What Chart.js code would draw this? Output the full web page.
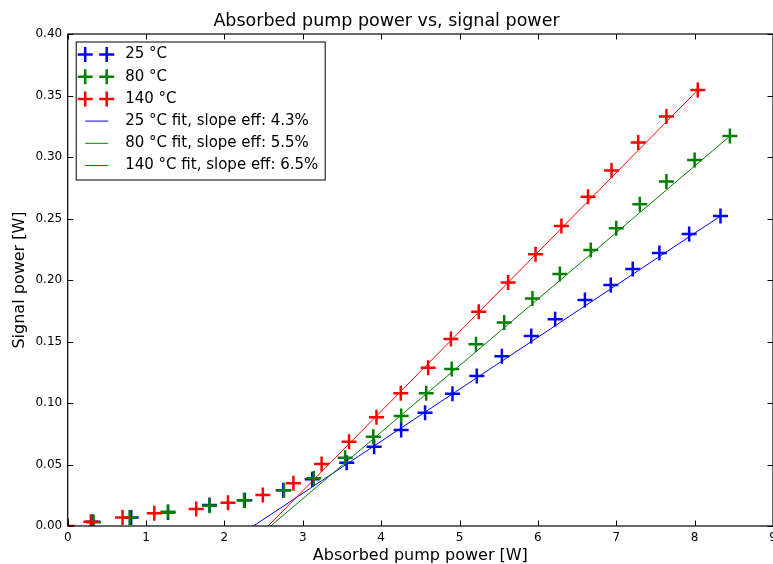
<!DOCTYPE html>
<html>
<head>
<meta charset="utf-8">
<script src="https://cdn.jsdelivr.net/npm/chart.js@4.4.0/dist/chart.umd.min.js"></script>
<style>
  html, body { margin: 0; padding: 0; background: #fff; }
</style>
</head>
<body>
<canvas id="pumpChart" width="773" height="564"></canvas>
<script>
const x25 = [0.32, 0.81, 1.28, 1.81, 2.26, 2.75, 3.12, 3.56, 3.91, 4.255, 4.56, 4.91, 5.22, 5.54, 5.915, 6.22, 6.60, 6.93, 7.21, 7.55, 7.93, 8.33];
const y25 = [0.0035, 0.007, 0.011, 0.017, 0.021, 0.029, 0.038, 0.0515, 0.0645, 0.078, 0.092, 0.1075, 0.122, 0.138, 0.1545, 0.168, 0.1837, 0.196, 0.209, 0.222, 0.2374, 0.252];

const x80 = [0.33, 0.79, 1.28, 1.81, 2.25, 2.76, 3.14, 3.54, 3.90, 4.255, 4.575, 4.90, 5.21, 5.57, 5.93, 6.28, 6.675, 7.00, 7.30, 7.64, 8.00, 8.45];
const y80 = [0.003, 0.007, 0.0115, 0.0165, 0.021, 0.029, 0.0388, 0.0555, 0.0725, 0.0894, 0.108, 0.1276, 0.1477, 0.1655, 0.185, 0.2049, 0.2244, 0.242, 0.2615, 0.280, 0.2976, 0.317];

const x140 = [0, 0.295, 0.70, 1.105, 1.64, 2.045, 2.49, 2.88, 3.24, 3.59, 3.94, 4.25, 4.60, 4.89, 5.245, 5.62, 5.97, 6.30, 6.64, 6.94, 7.28, 7.64, 8.04];
const y140 = [0, 0.0035, 0.007, 0.0103, 0.0138, 0.019, 0.0252, 0.0347, 0.0504, 0.0685, 0.0884, 0.108, 0.1287, 0.152, 0.1742, 0.198, 0.221, 0.244, 0.2677, 0.289, 0.3117, 0.333, 0.3545];

// fit lines (start at threshold, end at last point)
const fit25X = [2.37, 8.33];
const fit25Y = [0, 0.252];
const fit80X = [2.59, 8.45];
const fit80Y = [0, 0.317];
const fit140X = [2.557, 8.04];
const fit140Y = [0, 0.3545];

const xTicks = [0, 1, 2, 3, 4, 5, 6, 7, 8, 9];
const yTicks = [0, 0.05, 0.10, 0.15, 0.20, 0.25, 0.30, 0.35, 0.40];

const FONT = "'DejaVu Sans', sans-serif";

function pts(xs, ys) {
  return xs.map((x, i) => ({x: x, y: ys[i]}));
}

function markerSet(label, xs, ys, color, order) {
  return {
    label: label,
    data: pts(xs, ys),
    showLine: false,
    pointStyle: 'cross',
    pointRadius: 7.5,
    pointBorderWidth: 2.5,
    pointBorderColor: color,
    pointBackgroundColor: color,
    borderColor: color,
    backgroundColor: color,
    clip: 0,
    order: order,
    kind: 'marker'
  };
}

function fitSet(label, xs, ys, color, order) {
  return {
    label: label,
    data: pts(xs, ys),
    showLine: true,
    pointRadius: 0,
    borderWidth: 1,
    borderColor: color,
    backgroundColor: color,
    clip: 0,
    order: order,
    kind: 'line'
  };
}

// inward ticks on all four sides + axes frame
const frameTicks = {
  id: 'frameTicks',
  afterDatasetsDraw(chart) {
    const {ctx, chartArea: a, scales} = chart;
    const sx = scales.x, sy = scales.y;
    const len = 5.5;
    ctx.save();
    ctx.strokeStyle = '#000';
    ctx.lineWidth = 1;
    ctx.beginPath();
    xTicks.forEach(v => {
      const px = Math.round(sx.getPixelForValue(v)) + 0.5;
      ctx.moveTo(px, a.bottom); ctx.lineTo(px, a.bottom - len);
      ctx.moveTo(px, a.top); ctx.lineTo(px, a.top + len);
    });
    yTicks.forEach(v => {
      const py = Math.round(sy.getPixelForValue(v)) + 0.5;
      ctx.moveTo(a.left, py); ctx.lineTo(a.left + len, py);
      ctx.moveTo(a.right, py); ctx.lineTo(a.right - len, py);
    });
    ctx.stroke();
    ctx.lineWidth = 1.2;
    ctx.strokeRect(a.left, a.top, a.right - a.left, a.bottom - a.top);
    ctx.restore();
  }
};

// matplotlib-like legend box in the upper left
const boxLegend = {
  id: 'boxLegend',
  afterDraw(chart) {
    const {ctx, chartArea: a} = chart;
    const bx = a.left + 8.5, by = a.top + 8;
    const bw = 249, bh = 138;
    ctx.save();
    ctx.fillStyle = '#fff';
    ctx.fillRect(bx, by, bw, bh);
    ctx.strokeStyle = '#000';
    ctx.lineWidth = 1;
    ctx.strokeRect(bx, by, bw, bh);
    ctx.font = '15px ' + FONT;
    ctx.textBaseline = 'middle';
    ctx.fillStyle = '#000';
    chart.data.datasets.forEach((ds, i) => {
      const cy = by + 12.5 + i * 22.2;
      ctx.strokeStyle = ds.borderColor;
      if (ds.kind === 'marker') {
        ctx.lineWidth = 2.5;
        [bx + 9, bx + 30.5].forEach(mx => {
          ctx.beginPath();
          ctx.moveTo(mx - 7.5, cy); ctx.lineTo(mx + 7.5, cy);
          ctx.moveTo(mx, cy - 7.5); ctx.lineTo(mx, cy + 7.5);
          ctx.stroke();
        });
      } else {
        ctx.lineWidth = 1;
        ctx.beginPath();
        ctx.moveTo(bx + 9, cy); ctx.lineTo(bx + 32, cy);
        ctx.stroke();
      }
      ctx.fillText(ds.label, bx + 49, cy);
    });
    ctx.restore();
  }
};

new Chart("pumpChart", {
  type: "scatter",
  data: {
    datasets: [
      markerSet("25 °C", x25, y25, "#0000ff", 6),
      markerSet("80 °C", x80, y80, "#008000", 5),
      markerSet("140 °C", x140, y140, "#ff0000", 4),
      fitSet("25 °C fit, slope eff: 4.3%", fit25X, fit25Y, "#0000ff", 3),
      fitSet("80 °C fit, slope eff: 5.5%", fit80X, fit80Y, "#008000", 2),
      fitSet("140 °C fit, slope eff: 6.5%", fit140X, fit140Y, "#ff0000", 1)
    ]
  },
  options: {
    responsive: false,
    animation: false,
    layout: {padding: 0, autoPadding: false},
    plugins: {
      legend: {display: false},
      tooltip: {enabled: false},
      title: {
        display: true,
        text: "Absorbed pump power vs, signal power",
        color: "#000",
        font: {family: FONT, size: 17.5, weight: "normal"},
        padding: {top: 10.5, bottom: 2.5}
      }
    },
    scales: {
      x: {
        type: "linear",
        min: 0,
        max: 9,
        grid: {display: false, drawTicks: false},
        border: {display: false},
        ticks: {
          stepSize: 1,
          color: "#000",
          padding: 5,
          maxRotation: 0,
          font: {family: FONT, size: 12}
        },
        title: {
          display: true,
          text: "Absorbed pump power [W]",
          color: "#000",
          font: {family: FONT, size: 16, lineHeight: 1},
          padding: {top: 0, bottom: 0}
        },
        afterFit(s) {
          s.height = 38;
          s.paddingLeft = 0;
          s.paddingRight = 0;
        }
      },
      y: {
        type: "linear",
        min: 0,
        max: 0.4,
        grid: {display: false, drawTicks: false},
        border: {display: false},
        ticks: {
          stepSize: 0.05,
          color: "#000",
          padding: 5.5,
          font: {family: FONT, size: 12},
          callback: v => v.toFixed(2)
        },
        title: {
          display: true,
          text: "Signal power [W]",
          color: "#000",
          font: {family: FONT, size: 16},
          padding: {top: 10, bottom: 0}
        },
        afterFit(s) {
          s.width = 67.7;
          s.paddingTop = 0;
          s.paddingBottom = 0;
        }
      }
    }
  },
  plugins: [frameTicks, boxLegend]
});
</script>
</body>
</html>
